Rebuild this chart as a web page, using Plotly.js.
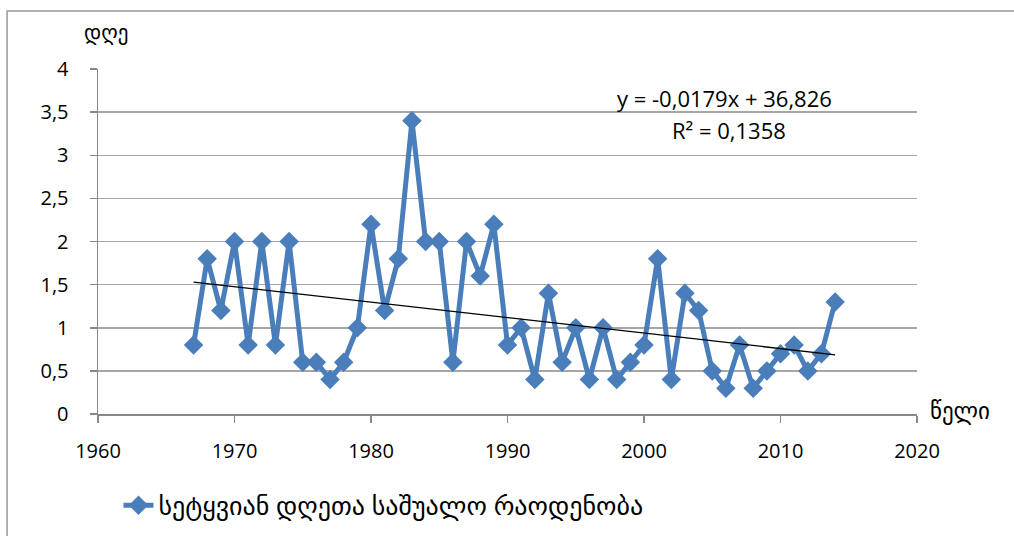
<!DOCTYPE html>
<html>
<head>
<meta charset="utf-8">
<script src="https://cdn.plot.ly/plotly-3.0.1.min.js"></script>
<style>html,body{margin:0;padding:0;background:#fff;}#chart{width:1014px;height:536px;}</style>
</head>
<body>
<div id="chart"></div>
<script>
const years = [1967,1968,1969,1970,1971,1972,1973,1974,1975,1976,1977,1978,1979,1980,1981,1982,1983,1984,1985,1986,1987,1988,1989,1990,1991,1992,1993,1994,1995,1996,1997,1998,1999,2000,2001,2002,2003,2004,2005,2006,2007,2008,2009,2010,2011,2012,2013,2014];
const days = [0.8,1.8,1.2,2.0,0.8,2.0,0.8,2.0,0.6,0.6,0.4,0.6,1.0,2.2,1.2,1.8,3.4,2.0,2.0,0.6,2.0,1.6,2.2,0.8,1.0,0.4,1.4,0.6,1.0,0.4,1.0,0.4,0.6,0.8,1.8,0.4,1.4,1.2,0.5,0.3,0.8,0.3,0.5,0.7,0.8,0.5,0.7,1.3];
const seriesName = "სეტყვიან დღეთა საშუალო რაოდენობა";
const yTitle = "დღე";
const xTitle = "წელი";
const eqText = "y = -0,0179x + 36,826";
const r2Text = "R² = 0,1358";

// least squares trend line from the data
const n = years.length;
const mx = years.reduce((a,b)=>a+b,0)/n;
const my = days.reduce((a,b)=>a+b,0)/n;
let sxy=0, sxx=0;
for (let i=0;i<n;i++){ sxy += (years[i]-mx)*(days[i]-my); sxx += (years[i]-mx)**2; }
const slope = sxy/sxx, icpt = my - slope*mx;
const trendX = [years[0], years[n-1]];
const trendY = trendX.map(x => icpt + slope*x);

const FONT = "Open Sans, DejaVu Sans, sans-serif";
const data = [
  {x: years, y: days, type:'scatter', mode:'lines+markers', name: seriesName,
   line:{color:'#4a7ebb', width:5}, marker:{symbol:'diamond', size:15, color:'#4a7ebb'}},
  {x: trendX, y: trendY, type:'scatter', mode:'lines', showlegend:false, hoverinfo:'skip',
   line:{color:'#000000', width:1.3}}
];
const layout = {
  width:1014, height:536,
  margin:{l:98, r:97, t:69, b:122, autoexpand:false},
  paper_bgcolor:'#fff', plot_bgcolor:'#fff',
  separators:', ',
  font:{family:FONT, size:20, color:'#000'},
  showlegend:true,
  legend:{orientation:'h', x:0.025, xanchor:'left', y:-0.265, yanchor:'middle', font:{size:26, family:FONT}},
  xaxis:{range:[1960,2020], tickvals:[1960,1970,1980,1990,2000,2010,2020], showgrid:false, zeroline:false, automargin:false,
         showline:true, linecolor:'#888', linewidth:1.5, ticks:'outside', ticklen:7, tickcolor:'#888', tickwidth:1.5,
         tickfont:{size:20}, ticklabelstandoff:11},
  yaxis:{range:[0,4], dtick:0.5, tick0:0, showgrid:true, gridcolor:'#a6a6a6', gridwidth:1.5, zeroline:false, automargin:false,
         showline:true, linecolor:'#888', linewidth:1.5, ticks:'outside', ticklen:7, tickcolor:'#888', tickwidth:1.5,
         tickfont:{size:20}, ticklabelstandoff:17},
  annotations:[
    {xref:'paper', yref:'paper', x:0.01, y:1.06, xanchor:'center', yanchor:'bottom', text:yTitle, showarrow:false, font:{size:21}},
    {xref:'paper', yref:'paper', x:1.014, y:0.012, xanchor:'left', yanchor:'middle', text:xTitle, showarrow:false, font:{size:23}},
    {xref:'paper', yref:'paper', x:0.765, y:0.915, xanchor:'center', yanchor:'middle', text:eqText, showarrow:false, font:{size:22}},
    {xref:'paper', yref:'paper', x:0.771, y:0.822, xanchor:'center', yanchor:'middle', text:r2Text, showarrow:false, font:{size:22}}
  ],
  shapes:[
    {type:'rect', xref:'paper', yref:'paper', x0:-0.111, x1:1.2, y0:-0.6, y1:1.168, line:{color:'#999', width:1.5}, fillcolor:'rgba(0,0,0,0)', layer:'below'}
  ]
};
Plotly.newPlot('chart', data, layout, {displayModeBar:false, staticPlot:true});
</script>
</body>
</html>
